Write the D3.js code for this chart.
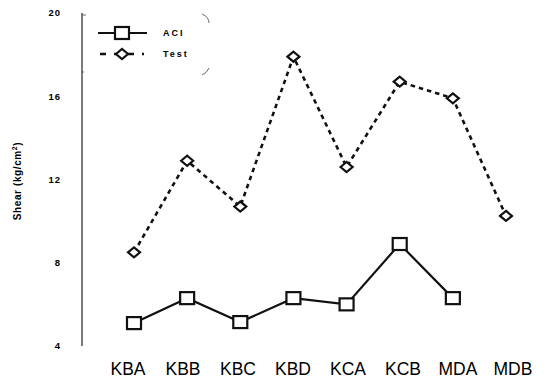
<!DOCTYPE html>
<html lang="en">
<head>
  <meta charset="UTF-8">
  <title>Shear</title>
  <style>
    body { margin: 0; background: #fff; }
    svg { display: block; }
    text { fill: #000; font-family: Arial, "Liberation Sans", sans-serif; }
  </style>
</head>
<body>
  <svg id="chart" width="548" height="379"></svg>
  <script src="https://d3js.org/d3.v7.min.js"></script>
  <script>
    const categories = ["KBA", "KBB", "KBC", "KBD", "KCA", "KCB", "MDA", "MDB"];
    const aciValues = [5.1, 6.3, 5.15, 6.3, 6.0, 8.9, 6.3, null];
    const testValues = [8.5, 12.9, 10.7, 17.9, 12.6, 16.7, 15.9, 10.25];
    const yTicks = [4, 8, 12, 16, 20];

    const svg = d3.select("#chart");

    const x = d3.scalePoint().domain(categories).range([134, 506]);
    const xLabel = d3.scalePoint().domain(categories).range([128, 513]);
    const y = d3.scaleLinear().domain([4, 20]).range([346, 13]);

    // y axis line
    svg.append("line")
      .attr("x1", 82).attr("x2", 82)
      .attr("y1", y(20)).attr("y2", y(4))
      .attr("stroke", "#222").attr("stroke-width", 1.2);

    svg.selectAll(".ylab")
      .data(yTicks)
      .enter()
      .append("text")
      .attr("class", "ylab")
      .attr("x", 61)
      .attr("y", d => y(d))
      .attr("dy", "0.35em")
      .attr("text-anchor", "end")
      .style("font-weight", "bold")
      .style("font-size", "9.5px")
      .style("letter-spacing", "1px")
      .text(d => d);

    svg.append("text")
      .attr("transform", "translate(21,181) rotate(-90)")
      .attr("text-anchor", "middle")
      .style("font-weight", "bold")
      .style("font-size", "10px")
      .style("letter-spacing", "0.6px")
      .html("Shear (kg/cm<tspan dy='-4' font-size='7'>2</tspan><tspan dy='4'>)</tspan>");

    // category labels
    svg.selectAll(".xlab")
      .data(categories)
      .enter()
      .append("text")
      .attr("class", "xlab")
      .attr("x", d => xLabel(d))
      .attr("y", 375)
      .attr("text-anchor", "middle")
      .style("font-size", "17.5px")
      .text(d => d);

    const line = d3.line()
      .defined(d => d.v != null)
      .x(d => x(d.c))
      .y(d => y(d.v));

    const testData = categories.map((c, i) => ({ c, v: testValues[i] }));
    const aciData = categories.map((c, i) => ({ c, v: aciValues[i] })).filter(d => d.v != null);

    svg.append("path")
      .datum(testData)
      .attr("d", line)
      .attr("fill", "none")
      .attr("stroke", "#111")
      .attr("stroke-width", 2.6)
      .attr("stroke-dasharray", "4.5,4");

    svg.append("path")
      .datum(aciData)
      .attr("d", line)
      .attr("fill", "none")
      .attr("stroke", "#111")
      .attr("stroke-width", 2.2);

    const diamond = (g, cx, cy) => g.append("path")
      .attr("d", `M${cx - 6},${cy} L${cx},${cy - 5} L${cx + 6},${cy} L${cx},${cy + 5} Z`)
      .attr("fill", "#fff")
      .attr("stroke", "#111")
      .attr("stroke-width", 2.2);

    const square = (g, cx, cy) => g.append("rect")
      .attr("x", cx - 7).attr("y", cy - 6)
      .attr("width", 14).attr("height", 12)
      .attr("fill", "#fff")
      .attr("stroke", "#111")
      .attr("stroke-width", 2.2);

    testData.forEach(d => diamond(svg, x(d.c), y(d.v)));
    aciData.forEach(d => square(svg, x(d.c), y(d.v)));

    // legend
    const lg = svg.append("g");
    lg.append("path")
      .attr("d", "M82,15 L86,15 M82,72 L84,72 M202,14 Q209,17 209,23 M209,68 Q207,73 202,75")
      .attr("fill", "none")
      .attr("stroke", "#444")
      .attr("stroke-width", 0.8);
    lg.append("line")
      .attr("x1", 98).attr("x2", 147).attr("y1", 33).attr("y2", 33)
      .attr("stroke", "#111").attr("stroke-width", 2.2);
    square(lg, 122, 33);
    lg.append("line")
      .attr("x1", 100).attr("x2", 144).attr("y1", 54).attr("y2", 54)
      .attr("stroke", "#111").attr("stroke-width", 2.4)
      .attr("stroke-dasharray", "6,8");
    diamond(lg, 122, 54);
    lg.selectAll(".ltxt")
      .data([["ACI", 33], ["Test", 54]])
      .enter()
      .append("text")
      .attr("x", 163)
      .attr("y", d => d[1])
      .attr("dy", "0.35em")
      .style("font-weight", "bold")
      .style("font-size", "9px")
      .style("letter-spacing", "2px")
      .text(d => d[0]);
  </script>
</body>
</html>
